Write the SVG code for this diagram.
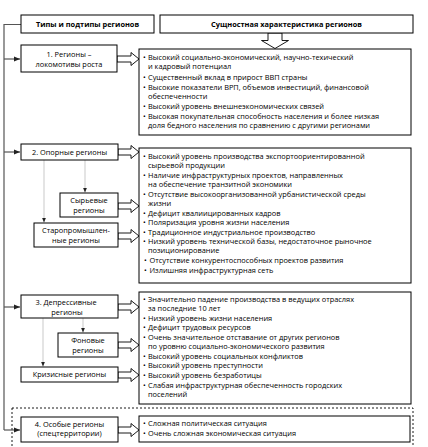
<svg xmlns="http://www.w3.org/2000/svg" width="428" height="447" viewBox="0 0 428 447">
<style>
.bx{fill:#fff;stroke:#000;stroke-width:1}
.t{font-family:"Open Sans","Liberation Sans",sans-serif;font-size:7.4px;fill:#000}
.c{text-anchor:middle}
.h{font-weight:bold;font-size:7.4px}
.ha{fill:#fff;stroke:#000;stroke-width:0.9;stroke-linejoin:miter}
.main{fill:none;stroke:#555;stroke-width:1.2}
.sub{fill:none;stroke:#bbb;stroke-width:0.8}
.dash{fill:none;stroke:#000;stroke-width:0.9;stroke-dasharray:2,2}
</style>
<defs>
<marker id="ah" viewBox="0 0 6 6" refX="6" refY="3" markerWidth="6" markerHeight="6" markerUnits="userSpaceOnUse" orient="auto"><path d="M0,0.5 L6,3 L0,5.5 Z" fill="#222"/></marker>
<marker id="ahs" viewBox="0 0 6 6" refX="6" refY="3" markerWidth="5" markerHeight="5" markerUnits="userSpaceOnUse" orient="auto"><path d="M0,0.5 L6,3 L0,5.5 Z" fill="#222"/></marker>
</defs>

<rect class="dash" x="12" y="408" width="401" height="50"/>

<g id="connectors">
<path class="main" d="M21,24.5 H4 V430"/>
<path class="main" d="M4,59 H20" marker-end="url(#ah)"/>
<path class="main" d="M4,152 H20" marker-end="url(#ah)"/>
<path class="main" d="M4,307 H20" marker-end="url(#ah)"/>
<path class="main" d="M4,430 H20" marker-end="url(#ah)"/>
<path class="sub" d="M85,160 V192.5" marker-end="url(#ahs)"/>
<path class="sub" d="M44,160 V222.5" marker-end="url(#ahs)"/>
<path class="sub" d="M83,318 V332.5" marker-end="url(#ahs)"/>
<path class="sub" d="M43,318 V366.5" marker-end="url(#ahs)"/>
<polygon class="ha" points="268,33 282,33 282,40.5 288.5,40.5 275,48.5 261.5,40.5 268,40.5"/>
<polygon class="ha" points="117,56 131,56 131,52.5 139,59 131,65.5 131,62 117,62"/>
<polygon class="ha" points="118,149 131,149 131,145.5 139,152 131,158.5 131,155 118,155"/>
<polygon class="ha" points="118,203 131,203 131,199.5 139,206 131,212.5 131,209 118,209"/>
<polygon class="ha" points="118,233 131,233 131,229.5 139,236 131,242.5 131,239 118,239"/>
<polygon class="ha" points="118,304 131,304 131,300.5 139,307 131,313.5 131,310 118,310"/>
<polygon class="ha" points="118,342 131,342 131,338.5 139,345 131,351.5 131,348 118,348"/>
<polygon class="ha" points="118,372 131,372 131,368.5 139,375 131,381.5 131,378 118,378"/>
<polygon class="ha" points="118,427 131,427 131,423.5 139,430 131,436.5 131,433 118,433"/>
</g>

<g id="hdr-types">
<rect class="bx" x="21" y="15" width="133" height="18"/>
<text class="t c h" x="87.5" y="27">Типы и подтипы регионов</text>
</g>
<g id="hdr-char">
<rect class="bx" x="160" y="15" width="253" height="18"/>
<text class="t c h" x="286.5" y="27">Сущностная характеристика регионов</text>
</g>

<g id="r1">
<rect class="bx" x="21" y="45" width="96" height="27"/>
<text class="t c" x="69" y="56.5">1. Регионы –</text>
<text class="t c" x="69" y="66.5">локомотивы роста</text>
</g>
<g id="r1-desc">
<rect class="bx" x="139" y="49" width="272" height="86"/>
<text class="t" y="59.5"><tspan x="143">•</tspan><tspan x="148">Высокий социально-экономический, научно-техический</tspan></text>
<text class="t" x="148" y="68.5">и кадровый потенциал</text>
<text class="t" y="79.5"><tspan x="143">•</tspan><tspan x="148">Существенный вклад в прирост ВВП страны</tspan></text>
<text class="t" y="89.5"><tspan x="143">•</tspan><tspan x="148">Высокие показатели ВРП, объемов инвестиций, финансовой</tspan></text>
<text class="t" x="148" y="98.5">обеспеченности</text>
<text class="t" y="108.5"><tspan x="143">•</tspan><tspan x="148">Высокий уровень внешнеэкономических связей</tspan></text>
<text class="t" y="118.5"><tspan x="143">•</tspan><tspan x="148">Высокая покупательная способность населения и более низкая</tspan></text>
<text class="t" x="148" y="128">доля бедного населения  по сравнению с другими регионами</text>
</g>

<g id="r2">
<rect class="bx" x="21" y="144" width="97" height="16"/>
<text class="t c" x="69.5" y="154.5">2. Опорные регионы</text>
</g>
<g id="r2a">
<rect class="bx" x="60" y="193" width="58" height="24"/>
<text class="t c" x="89" y="202.5">Сырьевые</text>
<text class="t c" x="89" y="212.5">регионы</text>
</g>
<g id="r2b">
<rect class="bx" x="34" y="223" width="84" height="24"/>
<text class="t c" x="76" y="232.5">Старопромышлен-</text>
<text class="t c" x="76" y="242.5">ные регионы</text>
</g>
<g id="r2-desc">
<rect class="bx" x="139" y="148" width="272" height="135"/>
<text class="t" y="158.5"><tspan x="143">•</tspan><tspan x="148">Высокий уровень производства экспортоориентированной</tspan></text>
<text class="t" x="148" y="167.5">сырьевой продукции</text>
<text class="t" y="177.5"><tspan x="143">•</tspan><tspan x="148">Наличие инфраструктурных проектов, направленных</tspan></text>
<text class="t" x="148" y="186.5">на обеспечение транзитной экономики</text>
<text class="t" y="196.5"><tspan x="143">•</tspan><tspan x="148">Отсутствие высокоорганизованной урбанистической среды</tspan></text>
<text class="t" x="148" y="205.5">жизни</text>
<text class="t" y="215.5"><tspan x="143">•</tspan><tspan x="148">Дефицит квалиицированных кадров</tspan></text>
<text class="t" y="225"><tspan x="143">•</tspan><tspan x="148">Поляризация уровня жизни населения</tspan></text>
<text class="t" y="234.5"><tspan x="143">•</tspan><tspan x="148">Традиционное индустриальное производство</tspan></text>
<text class="t" y="244"><tspan x="143">•</tspan><tspan x="148">Низкий уровень технической базы, недостаточное рыночное</tspan></text>
<text class="t" x="148" y="253">позиционирование</text>
<text class="t" y="263"><tspan x="144">•</tspan><tspan x="149.5">Отсутствие конкурентоспособных проектов развития</tspan></text>
<text class="t" y="273"><tspan x="144">•</tspan><tspan x="149.5">Излишняя инфраструктурная сеть</tspan></text>
</g>

<g id="r3">
<rect class="bx" x="21" y="295" width="97" height="23"/>
<text class="t c" x="66" y="304.5">3. Депрессивные</text>
<text class="t c" x="67" y="314.5">регионы</text>
</g>
<g id="r3a">
<rect class="bx" x="58" y="333" width="60" height="24"/>
<text class="t c" x="88" y="342.5">Фоновые</text>
<text class="t c" x="88" y="352.5">регионы</text>
</g>
<g id="r3b">
<rect class="bx" x="21" y="367" width="97" height="15"/>
<text class="t c" x="69.5" y="377">Кризисные регионы</text>
</g>
<g id="r3-desc">
<rect class="bx" x="139" y="292" width="272" height="112"/>
<text class="t" y="301.5"><tspan x="143">•</tspan><tspan x="148">Значительно падение производства в ведущих отраслях</tspan></text>
<text class="t" x="148" y="310.5">за последние 10 лет</text>
<text class="t" y="320.5"><tspan x="143">•</tspan><tspan x="148">Низкий уровень жизни населения</tspan></text>
<text class="t" y="330"><tspan x="143">•</tspan><tspan x="148">Дефицит трудовых ресурсов</tspan></text>
<text class="t" y="339.5"><tspan x="143">•</tspan><tspan x="148">Очень значительное отставание от других регионов</tspan></text>
<text class="t" x="148" y="348.5">по уровню социально-экономического развития</text>
<text class="t" y="358.5"><tspan x="143">•</tspan><tspan x="148">Высокий уровень социальных конфликтов</tspan></text>
<text class="t" y="368"><tspan x="143">•</tspan><tspan x="148">Высокий уровень преступности</tspan></text>
<text class="t" y="377.5"><tspan x="143">•</tspan><tspan x="148">Высокий уровень безработицы</tspan></text>
<text class="t" y="387.5"><tspan x="143">•</tspan><tspan x="148">Слабая инфраструктурная обеспеченность городских</tspan></text>
<text class="t" x="148" y="396.5">поселений</text>
</g>

<g id="r4">
<rect class="bx" x="21" y="417" width="97" height="25"/>
<text class="t c" x="69.5" y="426.5">4. Особые регионы</text>
<text class="t c" x="69.5" y="436">(спецтерритории)</text>
</g>
<g id="r4-desc">
<rect class="bx" x="139" y="416" width="271" height="26"/>
<text class="t" y="426"><tspan x="143">•</tspan><tspan x="148">Сложная политическая ситуация</tspan></text>
<text class="t" y="436"><tspan x="143">•</tspan><tspan x="148">Очень сложная экономическая ситуация</tspan></text>
</g>
</svg>
